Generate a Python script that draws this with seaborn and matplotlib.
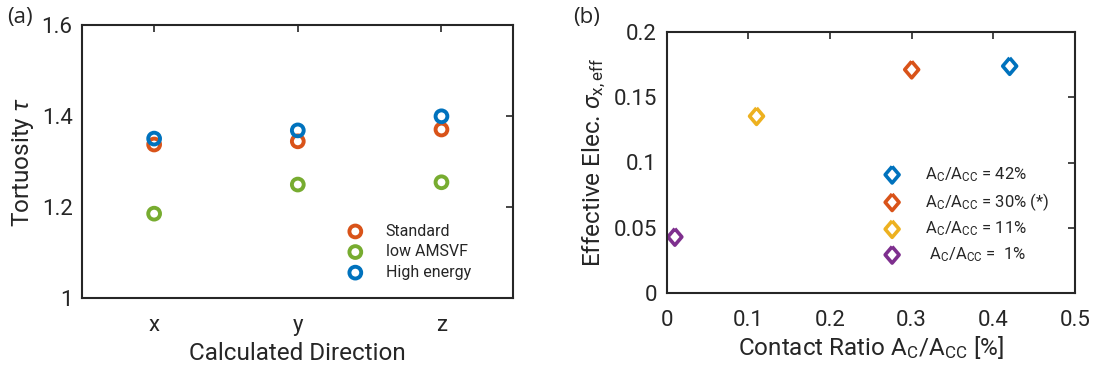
import numpy as np
import pandas as pd
import seaborn as sns
import matplotlib
matplotlib.use("Agg")
import matplotlib.pyplot as plt

sns.set_theme(style="white")
plt.rcParams['font.family'] = ['Roboto', 'DejaVu Sans']
plt.rcParams['mathtext.fontset'] = 'custom'
plt.rcParams['mathtext.rm'] = 'Roboto'
plt.rcParams['mathtext.it'] = 'Roboto:italic'

# ---- data panel (a)
directions = ["x", "y", "z"]
standard = [1.338, 1.345, 1.371]
low_amsvf = [1.186, 1.250, 1.255]
high_energy = [1.351, 1.369, 1.400]
series_a = ["Standard", "low AMSVF", "High energy"]
colors_a = ["#D95319", "#77AC30", "#0072BD"]

# ---- data panel (b)
contact_ratio = [0.42, 0.30, 0.11, 0.01]
sigma_eff = [0.1737, 0.171, 0.1354, 0.0431]
labels_b = [r"$\mathregular{A_C/A_{CC}}$ = 42%",
            r"$\mathregular{A_C/A_{CC}}$ = 30% (*)",
            r"$\mathregular{A_C/A_{CC}}$ = 11%",
            r" $\mathregular{A_C/A_{CC}}$ =  1%"]
colors_b = ["#0072BD", "#D95319", "#EDB120", "#7E2F8E"]

TXT = "#262626"
diamond = [(0, 1), (0.85, 0), (0, -1), (-0.85, 0), (0, 1)]

fig = plt.figure(figsize=(10.94, 3.72), dpi=100)
ax1 = fig.add_axes([82.3 / 1094, 1 - 298.3 / 372, 431 / 1094, 273 / 372])
ax2 = fig.add_axes([666.7 / 1094, 1 - 293.3 / 372, 408.3 / 1094, 261.6 / 372])

pos = np.arange(1, len(directions) + 1)
for name, vals, c in zip(series_a, [standard, low_amsvf, high_energy], colors_a):
    df = pd.DataFrame({"pos": pos, "val": vals})
    sns.scatterplot(data=df, x="pos", y="val", ax=ax1, marker="o", s=72,
                    facecolors="none", edgecolor=c, linewidth=2.8, label=name)

ax1.set_xlim(0.5, 3.5)
ax1.set_ylim(1.0, 1.6)
ax1.set_xticks(pos)
ax1.set_xticklabels(directions)
ax1.set_yticks([1.0, 1.2, 1.4, 1.6])
ax1.set_yticklabels(["1", "1.2", "1.4", "1.6"])
ax1.set_xlabel("Calculated Direction", fontsize=17.5, color=TXT, labelpad=4)
ax1.set_ylabel(r"Tortuosity $\it{\tau}$", fontsize=17.5, color=TXT)
leg1 = ax1.legend(loc="lower right", frameon=False, fontsize=11.5, handletextpad=1.1,
                  labelspacing=0.35, handlelength=1.6, bbox_to_anchor=(0.935, 0.015))

for lab, xv, yv, c in zip(labels_b, contact_ratio, sigma_eff, colors_b):
    df = pd.DataFrame({"x": [xv], "y": [yv]})
    sns.scatterplot(data=df, x="x", y="y", ax=ax2, marker=diamond, s=140,
                    facecolors="none", edgecolor=c, linewidth=2.6, label=lab)

ax2.set_xlim(0, 0.5)
ax2.set_ylim(0, 0.2)
ax2.set_xticks([0, 0.1, 0.2, 0.3, 0.4, 0.5])
ax2.set_xticklabels(["0", "0.1", "0.2", "0.3", "0.4", "0.5"])
ax2.set_yticks([0, 0.05, 0.1, 0.15, 0.2])
ax2.set_yticklabels(["0", "0.05", "0.1", "0.15", "0.2"])
ax2.set_xlabel(r"Contact Ratio $\mathregular{A_C/A_{CC}}$ [%]", fontsize=17.5, color=TXT,
               labelpad=2)
ax2.set_ylabel(r"Effective Elec. $\it{\sigma}_{\mathregular{x,eff}}$", fontsize=17.5,
               color=TXT)
leg2 = ax2.legend(loc="lower right", frameon=False, fontsize=12, handletextpad=1.2,
                  labelspacing=0.42, handlelength=1.6, bbox_to_anchor=(0.975, 0.055))

for leg in (leg1, leg2):
    for t in leg.get_texts():
        t.set_color(TXT)

for ax in (ax1, ax2):
    for sp in ax.spines.values():
        sp.set_visible(True)
        sp.set_color(TXT)
        sp.set_linewidth(1.5)
    ax.tick_params(direction="in", length=5, width=1.2, top=True, right=True,
                   labelsize=16, colors=TXT, pad=7)
    ax.tick_params(axis="x", pad=12)

fig.text(7 / 1094, 1 - 23 / 372, "(a)", fontsize=16, color=TXT, family="Open Sans")
fig.text(573 / 1094, 1 - 23 / 372, "(b)", fontsize=16, color=TXT, family="Open Sans")

fig.savefig("out.png", dpi=100)
